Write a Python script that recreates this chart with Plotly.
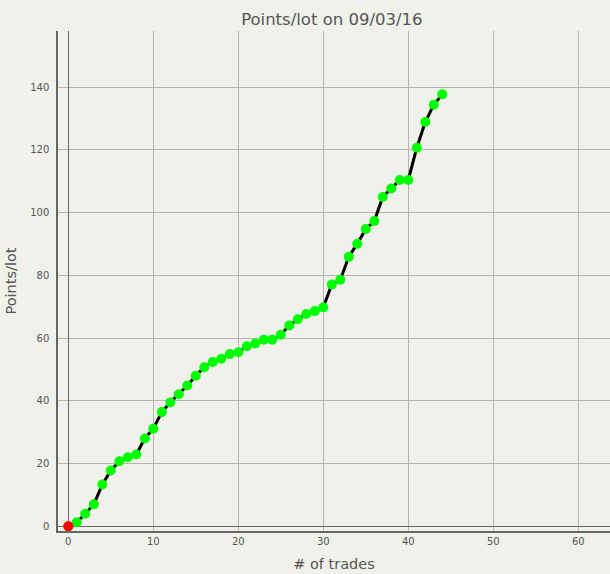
import plotly.graph_objects as go

trades = list(range(0, 45))
points_per_lot = [0, 1.3, 4.0, 7.0, 13.3, 17.8, 20.7, 22.0, 22.9, 28.0,
                  31.1, 36.4, 39.5, 42.1, 44.9, 48.0, 50.7, 52.4, 53.4, 54.9,
                  55.5, 57.4, 58.3, 59.5, 59.5, 61.1, 64.0, 66.0, 67.7, 68.6,
                  69.8, 77.1, 78.6, 85.9, 90.1, 94.8, 97.3, 105.0, 107.7, 110.4,
                  110.4, 120.7, 128.9, 134.4, 137.7]
x_ticks = [0, 10, 20, 30, 40, 50, 60]
y_ticks = [0, 20, 40, 60, 80, 100, 120, 140]

BG = "#f1f1ec"
FONT = "DejaVu Sans"
TXT = "#555555"

fig = go.Figure()
fig.add_trace(go.Scatter(
    x=trades, y=points_per_lot, mode="lines+markers",
    line=dict(color="black", width=3),
    marker=dict(color="#00ff00", size=10, line=dict(width=0)),
    showlegend=False, hoverinfo="skip"))
fig.add_trace(go.Scatter(
    x=trades[:1], y=points_per_lot[:1], mode="markers",
    marker=dict(color="#ff0000", size=10, line=dict(width=0)),
    showlegend=False, hoverinfo="skip"))

fig.update_layout(
    width=610, height=574,
    margin=dict(l=58, r=0, t=31, b=43, pad=0),
    paper_bgcolor=BG, plot_bgcolor=BG,
    font=dict(family=FONT, color=TXT, size=10),
    title=dict(text="Points/lot on 09/03/16", x=0.544, xanchor="center",
               y=1 - 19.5 / 574, yref="container", yanchor="middle",
               font=dict(family=FONT, size=16.5, color=TXT)),
)
fig.update_xaxes(
    range=[-1.21, 63.73], tickvals=x_ticks, ticktext=[str(v) for v in x_ticks],
    showgrid=True, gridcolor="#b5b5b0", gridwidth=1,
    zeroline=True, zerolinecolor="#666666", zerolinewidth=1,
    showline=True, linecolor="#666666", linewidth=1.5, mirror=False,
    ticks="", ticklabelstandoff=0,
    tickfont=dict(family=FONT, size=10, color=TXT),
    title=dict(text="# of trades", font=dict(family=FONT, size=14.5, color=TXT), standoff=13),
)
fig.update_yaxes(
    range=[-1.5, 157.9], tickvals=y_ticks, ticktext=[str(v) for v in y_ticks],
    showgrid=True, gridcolor="#b5b5b0", gridwidth=1,
    zeroline=True, zerolinecolor="#666666", zerolinewidth=1,
    showline=True, linecolor="#666666", linewidth=1.5, mirror=False,
    ticks="", ticklabelstandoff=5,
    tickfont=dict(family=FONT, size=10, color=TXT),
    title=dict(text="Points/lot", font=dict(family=FONT, size=14.5, color=TXT), standoff=10),
)

fig.write_html("out.html",
               config={"displayModeBar": False},
               post_script="document.body.style.margin='0';document.body.style.overflow='hidden';")
